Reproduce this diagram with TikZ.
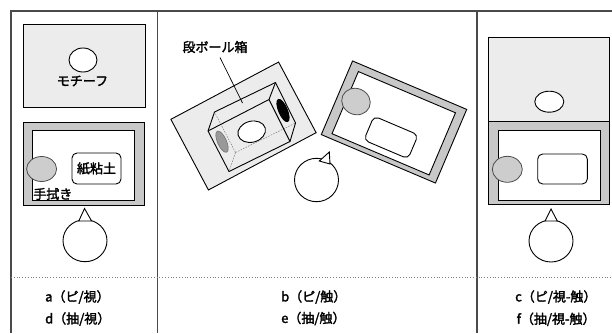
\documentclass[tikz,border=0pt]{standalone}
\usepackage{fontspec}
\newfontfamily\jp[FakeBold=2.2]{Noto Sans CJK JP}
\definecolor{plategray}{HTML}{ECECEC}
\definecolor{framegray}{HTML}{C8C8C8}
\definecolor{clothgray}{HTML}{CDCDCD}
\definecolor{rulegray}{HTML}{4A4A4A}
\begin{document}
\begin{tikzpicture}[x=1pt,y=-1pt,
  panelrule/.style={draw=rulegray,line width=1.4pt},
  sepline/.style={draw=gray,line width=0.8pt,dotted},
  obj/.style={draw=black,line width=0.9pt},
  plate/.style={obj,fill=plategray},
  frameouter/.style={obj,fill=framegray},
  frameinner/.style={obj,fill=white},
  cloth/.style={draw=black!70,line width=0.8pt,fill=clothgray},
  clay/.style={obj,fill=white,rounded corners=5pt},
  head/.style={obj,fill=white},
  hidden/.style={draw=gray,line width=0.5pt,dash pattern=on 1.6pt off 1.2pt},
  jtext/.style={font=\jp\fontsize{13}{15}\selectfont,inner sep=0pt},
  caption/.style={jtext,anchor=west}]
\useasboundingbox (0,0) rectangle (612,333);

% ---------- panel rules ----------
\draw[panelrule] (11,333) -- (11,11) -- (612,11);
\draw[panelrule] (157.5,11) -- (157.5,333);
\draw[panelrule] (477,11) -- (477,333);
\draw[sepline] (11,277) -- (612,277);

% ---------- panel a / d ----------
\draw[plate] (23,24) rectangle (145,107);
\draw[obj,fill=white] (83,60) ellipse [x radius=14,y radius=12];
\node[jtext] (motifA) at (82.5,81) {モチーフ};
\draw[frameouter] (23,122) rectangle (144,205);
\draw[frameinner] (32,130) rectangle (134,200);
\draw[cloth] (41.6,169) ellipse [x radius=15,y radius=12.5];
\draw[clay] (72,153) rectangle (121,184);
\node[jtext] (clayA) at (96.5,168.5) {紙粘土};
\node[jtext] (clothA) at (52.8,194) {手拭き};
\draw[head] (85,240.7) ellipse [x radius=22,y radius=21];
\draw[obj,fill=white] (84.5,208.5) -- (78.8,221) -- (91.6,221) -- cycle;
\node[caption] (capA) at (45,297) {a（ピ/視）};
\node[caption] (capD) at (45,319) {d（抽/視）};

% ---------- panel b / e ----------
\begin{scope}[shift={(243.5,126)},rotate=28]
  \draw[plate] (-61,-40) rectangle (61,40);
\end{scope}
% cardboard box, drawn as a see-through cuboid
\coordinate (bA) at (214.5,112);
\coordinate (bB) at (275.5,82.5);
\coordinate (bH) at (269,99.5);
\coordinate (bF) at (208,131);
\coordinate (bC) at (295.5,123);
\coordinate (bD) at (290,141.5);
\coordinate (bE) at (229,171.5);
\coordinate (bK) at (235.5,152.5);
\draw[hidden] (bK) -- (bA);
\draw[hidden] (bK) -- (bC);
\draw[hidden] (bK) -- (bE);
\draw[obj,line join=round] (bA) -- (bB) -- (bC) -- (bD) -- (bE) -- (bF) -- cycle;
\draw[obj,line join=round] (bF) -- (bH) -- (bB);
\draw[obj] (bH) -- (bD);
\draw[obj,fill=white,rotate around={15:(251.7,131.7)}] (251.7,131.7) ellipse [x radius=14,y radius=10.5];
\draw[obj,fill=black,rotate around={-67:(283,110.5)}] (283,110.5) ellipse [x radius=12,y radius=4.3];
\draw[draw=black!55,line width=0.6pt,fill=black!40,rotate around={-66:(222,141.7)}] (222,141.7) ellipse [x radius=11.5,y radius=4.5];
\node[jtext] (boxlbl) at (215,47) {段ボール箱};
\coordinate (leadS) at (220,57.5);
\coordinate (leadE) at (242.5,103);
\draw[line width=0.7pt] (leadS) -- (leadE);

\begin{scope}[shift={(394,122)},rotate=-23]
  \draw[frameouter] (-62,-40) rectangle (62,40);
  \draw[frameinner] (-52.5,-32.5) rectangle (53,35);
  \draw[cloth] (-43,-4) ellipse [x radius=14.5,y radius=13];
  \draw[clay] (-20.7,2.4) rectangle (27.3,28.4);
\end{scope}
\draw[head] (316.5,180) ellipse [x radius=22,y radius=21.7];
\draw[obj,fill=white] (329.3,152) -- (319.3,161) -- (330,164) -- cycle;
\node[caption] (capB) at (281,297) {b（ピ/触）};
\node[caption] (capE) at (281,318.5) {e（抽/触）};

% ---------- panel c / f ----------
\draw[plate] (488.3,37.7) rectangle (609.3,121.7);
\draw[obj,fill=white] (549.3,101.7) ellipse [x radius=14.5,y radius=10.5];
\draw[frameouter] (488.3,121.7) rectangle (609.3,204);
\draw[frameinner] (498.3,130.7) rectangle (600,200);
\draw[cloth] (507.3,169.3) ellipse [x radius=15,y radius=13];
\draw[clay] (537.7,154) rectangle (587.3,184);
\draw[head] (551,241) ellipse [x radius=22,y radius=21];
\draw[obj,fill=white] (551,209) -- (545,221) -- (557.3,221) -- cycle;
\node[caption] (capC) at (515,297) {c（ピ/視-触）};
\node[caption] (capF) at (516.5,319.3) {f（抽/視-触）};
\end{tikzpicture}
\end{document}
